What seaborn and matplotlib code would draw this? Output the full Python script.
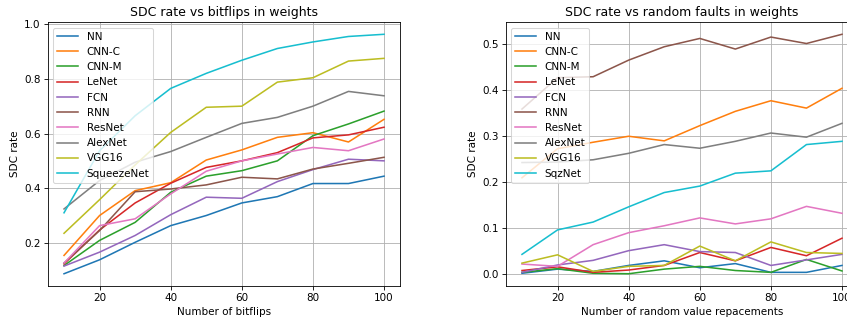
from matplotlib import pyplot as plt
import numpy as np
import pandas as pd
import seaborn as sns

# x values for both panels
faults = [10, 20, 30, 40, 50, 60, 70, 80, 90, 100]

models_left = ["NN", "CNN-C", "CNN-M", "LeNet", "FCN", "RNN", "ResNet", "AlexNet", "VGG16", "SqueezeNet"]
models_right = ["NN", "CNN-C", "CNN-M", "LeNet", "FCN", "RNN", "ResNet", "AlexNet", "VGG16", "SqzNet"]

# SDC rate vs bitflips in weights
bf_nn = [0.087, 0.138, 0.202, 0.263, 0.300, 0.346, 0.369, 0.417, 0.417, 0.444]
bf_cnnc = [0.154, 0.300, 0.391, 0.420, 0.503, 0.540, 0.586, 0.603, 0.569, 0.652]
bf_cnnm = [0.117, 0.209, 0.275, 0.385, 0.444, 0.464, 0.500, 0.592, 0.635, 0.682]
bf_lenet = [0.123, 0.247, 0.346, 0.418, 0.476, 0.500, 0.530, 0.584, 0.595, 0.623]
bf_fcn = [0.115, 0.166, 0.227, 0.303, 0.367, 0.363, 0.424, 0.468, 0.506, 0.500]
bf_rnn = [0.126, 0.245, 0.387, 0.397, 0.412, 0.440, 0.434, 0.470, 0.491, 0.513]
bf_resnet = [0.126, 0.263, 0.288, 0.379, 0.462, 0.500, 0.525, 0.549, 0.537, 0.580]
bf_alexnet = [0.324, 0.428, 0.495, 0.534, 0.586, 0.637, 0.659, 0.700, 0.754, 0.738]
bf_vgg16 = [0.235, 0.358, 0.485, 0.604, 0.696, 0.700, 0.788, 0.804, 0.865, 0.875]
bf_squeeze = [0.310, 0.537, 0.665, 0.765, 0.820, 0.868, 0.911, 0.935, 0.955, 0.963]

# SDC rate vs random faults in weights
rf_nn = [0.002, 0.011, 0.006, 0.019, 0.029, 0.014, 0.023, 0.004, 0.004, 0.019]
rf_cnnc = [0.209, 0.272, 0.286, 0.299, 0.289, 0.322, 0.353, 0.376, 0.360, 0.403]
rf_cnnm = [0.004, 0.012, 0.002, 0.001, 0.011, 0.017, 0.008, 0.004, 0.032, 0.007]
rf_lenet = [0.008, 0.016, 0.004, 0.009, 0.019, 0.047, 0.029, 0.058, 0.040, 0.078]
rf_fcn = [0.004, 0.020, 0.030, 0.051, 0.064, 0.049, 0.047, 0.019, 0.031, 0.043]
rf_rnn = [0.358, 0.426, 0.428, 0.464, 0.493, 0.511, 0.488, 0.514, 0.500, 0.520]
rf_resnet = [0.022, 0.017, 0.064, 0.090, 0.105, 0.122, 0.109, 0.120, 0.147, 0.132]
rf_alexnet = [0.242, 0.243, 0.248, 0.262, 0.281, 0.273, 0.288, 0.306, 0.297, 0.327]
rf_vgg16 = [0.024, 0.042, 0.006, 0.017, 0.019, 0.061, 0.029, 0.070, 0.047, 0.045]
rf_sqz = [0.043, 0.096, 0.113, 0.146, 0.177, 0.191, 0.219, 0.224, 0.281, 0.288]

left_series = [bf_nn, bf_cnnc, bf_cnnm, bf_lenet, bf_fcn, bf_rnn, bf_resnet, bf_alexnet, bf_vgg16, bf_squeeze]
right_series = [rf_nn, rf_cnnc, rf_cnnm, rf_lenet, rf_fcn, rf_rnn, rf_resnet, rf_alexnet, rf_vgg16, rf_sqz]

colors = sns.color_palette("tab10", 10)

fig = plt.figure(figsize=(847 / 75, 322 / 75), dpi=75)
ax1 = fig.add_axes([0.0567, 0.1127, 0.4156, 0.818])
ax2 = fig.add_axes([0.5974, 0.1127, 0.4156, 0.818])

for name, vals, c in zip(models_left, left_series, colors):
    sns.lineplot(x=faults, y=vals, label=name, color=c, ax=ax1)
for name, vals, c in zip(models_right, right_series, colors):
    sns.lineplot(x=faults, y=vals, label=name, color=c, ax=ax2)

ax1.set_title("SDC rate vs bitflips in weights")
ax1.set_xlabel("Number of bitflips")
ax1.set_ylabel("SDC rate")
ax1.set_xticks([20, 40, 60, 80, 100])
ax1.set_yticks([0.2, 0.4, 0.6, 0.8, 1.0])

ax2.set_title("SDC rate vs random faults in weights")
ax2.set_xlabel("Number of random value repacements")
ax2.set_ylabel("SDC rate")
ax2.set_xticks([20, 40, 60, 80, 100])
ax2.set_yticks([0.0, 0.1, 0.2, 0.3, 0.4, 0.5])

for ax in (ax1, ax2):
    ax.grid(True)
    ax.legend(loc="upper left")

plt.savefig("out.png", dpi=75)
